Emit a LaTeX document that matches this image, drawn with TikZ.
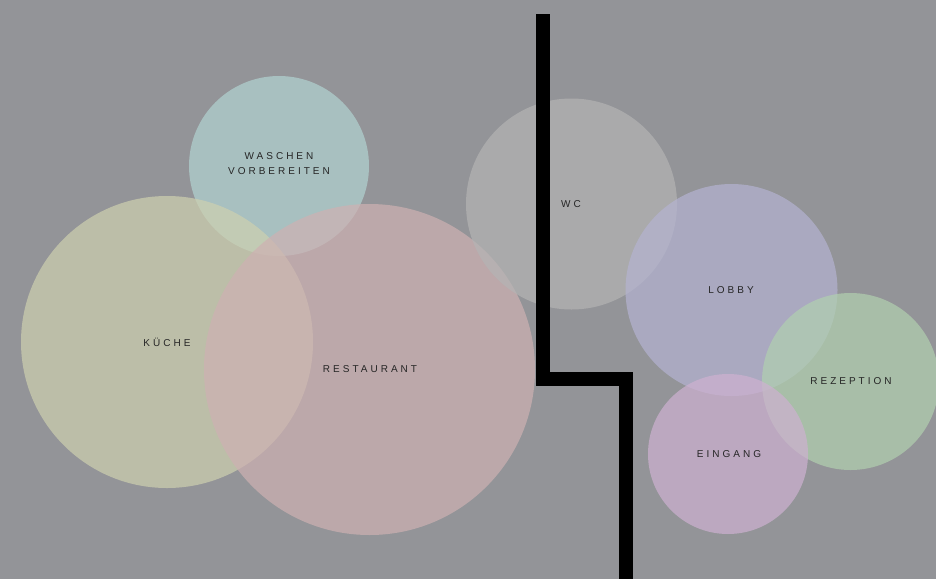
\documentclass[tikz,border=0pt]{standalone}
\usepackage{fontspec}
\setmainfont[LetterSpace=30]{Liberation Sans}
\begin{document}
\begin{tikzpicture}[x=1pt,y=-1pt,
  zone/.style={circle,draw=none,fill opacity=0.7,text opacity=1,inner sep=0pt,
    font=\fontsize{10}{15}\selectfont,text=labelc,align=center},
  wall/.style={draw=black,line width=14pt,line join=miter}]
\definecolor{bgc}{RGB}{147,148,152}
\definecolor{labelc}{RGB}{38,38,38}
\definecolor{cwasch}{RGB}{178,211,209}
\definecolor{ckuech}{RGB}{206,208,175}
\definecolor{crest}{RGB}{206,177,178}
\definecolor{cwc}{RGB}{180,180,180}
\definecolor{clobby}{RGB}{180,179,209}
\definecolor{crez}{RGB}{177,208,175}
\definecolor{ceing}{RGB}{206,177,209}
\fill[bgc] (0,0) rectangle (936,579);
\useasboundingbox (0,0) rectangle (936,579);
\node[zone,fill=cwasch,minimum size=180pt] (wasch) at (279,166) {};
\node[zone,fill=ckuech,minimum size=292pt] (kueche) at (167,342) {};
\node[zone,fill=crest,minimum size=331pt] (rest) at (369.5,369.5) {};
\node[zone,fill=cwc,minimum size=211pt] (wc) at (571.5,204) {};
\node[zone,fill=clobby,minimum size=212pt] (lobby) at (731.5,290) {};
\node[zone,fill=crez,minimum size=177pt] (rez) at (850.5,381.5) {};
\node[zone,fill=ceing,minimum size=160pt] (eing) at (728,454) {};
\node[zone,text=labelc] (twasch) at (279,164) {WASCHEN\\VORBEREITEN};
\node[zone] (tkueche) at (167,342) {KÜCHE};
\node[zone] (trest) at (370,369) {RESTAURANT};
\node[zone] (twc) at (571,204) {WC};
\node[zone] (tlobby) at (731,290) {LOBBY};
\node[zone] (trez) at (851,381) {REZEPTION};
\node[zone] (teing) at (729,454) {EINGANG};
\coordinate (w1) at (543,14);
\coordinate (w2) at (543,379);
\coordinate (w3) at (626,379);
\coordinate (w4) at (626,579);
\draw[wall] (w1) -- (w2) -- (w3) -- (w4);
\end{tikzpicture}
\end{document}
